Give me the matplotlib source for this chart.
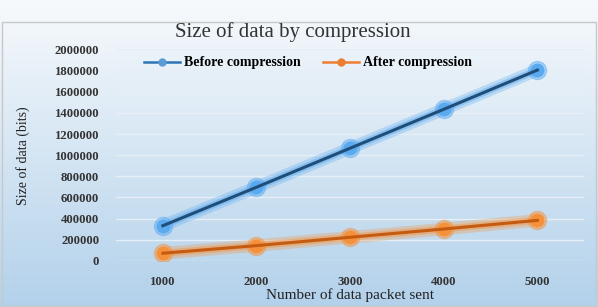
import numpy as np
import matplotlib
matplotlib.use("Agg")
import matplotlib.pyplot as plt
from matplotlib.lines import Line2D

categories = ["1000", "2000", "3000", "4000", "5000"]
before = [333000, 697000, 1066000, 1434000, 1805000]
after = [73000, 145000, 224000, 302000, 384000]
yticks = [0, 200000, 400000, 600000, 800000, 1000000, 1200000, 1400000,
          1600000, 1800000, 2000000]

plt.rcParams['font.family'] = ['Liberation Serif', 'DejaVu Serif']

fig = plt.figure(figsize=(5.98, 3.07), dpi=100)

# background gradient
bg = fig.add_axes([0, 0, 1, 1], zorder=0)
grad = np.linspace(0, 1, 256).reshape(-1, 1)
top = np.array([0.97, 0.98, 0.99])
bot = np.array([0.70, 0.82, 0.92])
img = top[None, None, :] * (1 - grad[:, :, None]) + bot[None, None, :] * grad[:, :, None]
bg.imshow(img, aspect='auto', extent=[0, 1, 0, 1])
bg.set_xlim(0, 1); bg.set_ylim(0, 1)
bg.axis('off')
bg.plot([0.003, 0.997, 0.997, 0.003, 0.003], [0.003, 0.003, 0.928, 0.928, 0.003],
        color='#c8c8c8', lw=1)

ax = fig.add_axes([0.194, 0.15, 0.783, 0.689], zorder=1)
ax.patch.set_alpha(0)
x = np.arange(len(categories))

blue_glow = '#5aaaf0'
orange_glow = '#f5913a'
for vals, dark, glow in [(before, '#1f4e79', blue_glow),
                         (after, '#c55a11', orange_glow)]:
    ax.plot(x, vals, color=glow, lw=9, alpha=0.3, solid_capstyle='round', zorder=2)
    ax.plot(x, vals, color=glow, lw=5, alpha=0.45, solid_capstyle='round', zorder=2)
    ax.plot(x, vals, 'o', color=glow, ms=13, alpha=0.45, zorder=3)
    ax.plot(x, vals, 'o', color=glow, ms=9, zorder=4)
    ax.plot(x, vals, color=dark, lw=2.2, zorder=5)

ax.set_xlim(-0.5, 4.5)
ax.set_ylim(0, 2000000)
ax.set_yticks(yticks)
ax.set_yticklabels([str(v) for v in yticks], fontsize=9.2, fontweight='bold', color='#333333')
ax.set_xticks(x)
ax.set_xticklabels(categories, fontsize=9.2, fontweight='bold', color='#333333')
ax.tick_params(length=0, pad=12, axis='y')
ax.tick_params(length=0, pad=11, axis='x')
ax.grid(axis='y', color='#e6eef6', lw=1)
for s in ax.spines.values():
    s.set_visible(False)

ax.set_ylabel('Size of data (bits)', fontsize=10, color='#222222', labelpad=18)
ax.set_xlabel('Number of data packet sent', fontsize=11, color='#222222', labelpad=0)
fig.text(0.49, 0.895, 'Size of data by compression', fontsize=15, ha='center',
         va='center', color='#333333')

handles = [Line2D([], [], color='#2e75b6', marker='o', ms=5, mfc='#5b9bd5', mec='#5b9bd5', lw=1.8),
           Line2D([], [], color='#ed7d31', marker='o', ms=5, mfc='#ed7d31', mec='#ed7d31', lw=1.8)]
leg = ax.legend(handles, ['Before compression', 'After compression'], loc='center',
                bbox_to_anchor=(0.41, 0.936), ncol=2, frameon=False,
                prop={'size': 10, 'weight': 'bold'}, handlelength=2.6, columnspacing=1.6,
                handletextpad=0.3)

fig.savefig('out.png', dpi=100)
